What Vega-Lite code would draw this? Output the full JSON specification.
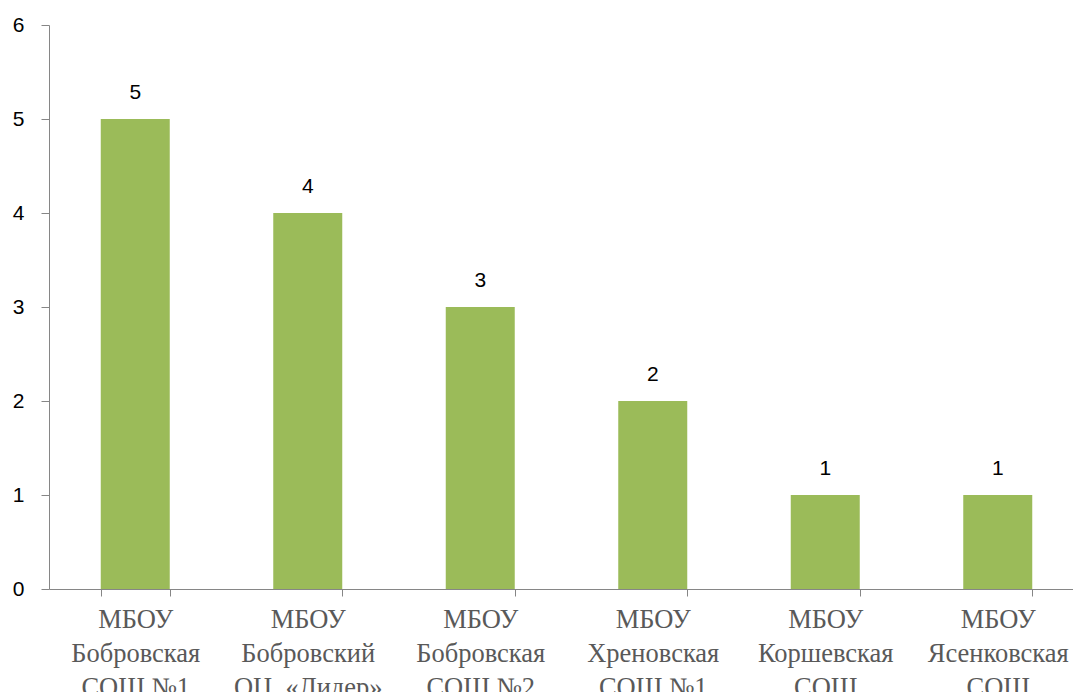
{
  "$schema": "https://vega.github.io/schema/vega-lite/v6.json",
  "autosize": "none",
  "padding": {"left": 49, "top": 25, "right": 0, "bottom": 110},
  "width": 1035,
  "height": 564,
  "background": "white",
  "data": {
    "values": [
      {"school": "МБОУ|Бобровская|СОШ №1", "count": 5},
      {"school": "МБОУ|Бобровский|ОЦ \u00a0«Лидер»", "count": 4},
      {"school": "МБОУ|Бобровская|СОШ №2", "count": 3},
      {"school": "МБОУ|Хреновская|СОШ №1", "count": 2},
      {"school": "МБОУ|Коршевская|СОШ", "count": 1},
      {"school": "МБОУ|Ясенковская|СОШ", "count": 1}
    ]
  },
  "config": {
    "view": {"stroke": null},
    "axis": {"domainColor": "#868686", "tickColor": "#868686", "grid": false, "title": null}
  },
  "encoding": {
    "x": {
      "field": "school",
      "type": "nominal",
      "sort": null,
      "scale": {"paddingInner": 0.6, "paddingOuter": 0.3},
      "axis": {
        "labelAngle": 0,
        "labelExpr": "split(datum.label, '|')",
        "labelFont": "Liberation Serif",
        "labelFontSize": 26.5,
        "labelColor": "#595959",
        "labelLineHeight": 34,
        "labelPadding": 10,
        "tickSize": 7,
        "tickBand": "extent",
        "labelBaseline": "top"
      }
    },
    "y": {
      "field": "count",
      "type": "quantitative",
      "scale": {"domain": [0, 6]},
      "axis": {
        "values": [0, 1, 2, 3, 4, 5, 6],
        "labelFont": "Liberation Sans",
        "labelFontSize": 21,
        "labelColor": "#000000",
        "tickSize": 8,
        "labelPadding": 17
      }
    }
  },
  "layer": [
    {"mark": {"type": "bar", "color": "#9BBB59"}},
    {
      "mark": {"type": "text", "baseline": "bottom", "dy": -16, "font": "Liberation Sans", "fontSize": 21, "color": "#000000"},
      "encoding": {"text": {"field": "count", "type": "quantitative"}}
    }
  ]
}
